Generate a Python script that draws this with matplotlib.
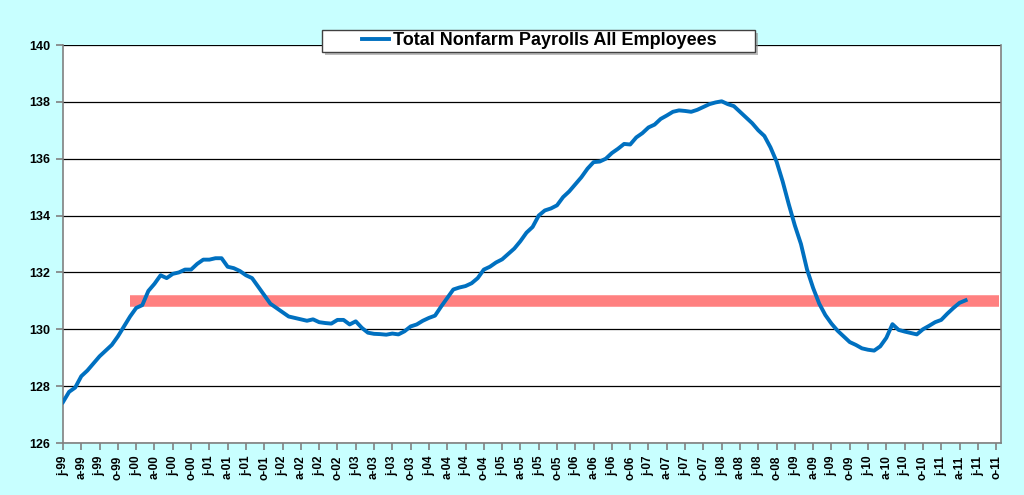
import matplotlib
matplotlib.use("Agg")
import matplotlib.pyplot as plt
from matplotlib.patches import Rectangle
import numpy as np

# Monthly Total Nonfarm Payrolls (millions), Jan 1999 .. May 2011
payrolls = [
    # 1999
    127.44, 127.80, 127.95, 128.35, 128.55, 128.80, 129.05, 129.25, 129.45, 129.75, 130.10, 130.45,
    # 2000
    130.75, 130.85, 131.35, 131.60, 131.90, 131.80, 131.95, 132.00, 132.10, 132.10, 132.30, 132.45,
    # 2001
    132.45, 132.50, 132.50, 132.20, 132.15, 132.05, 131.90, 131.80, 131.50, 131.20, 130.90, 130.75,
    # 2002
    130.60, 130.45, 130.40, 130.35, 130.30, 130.35, 130.25, 130.22, 130.20, 130.33, 130.33, 130.17,
    # 2003
    130.28, 130.05, 129.88, 129.84, 129.83, 129.81, 129.85, 129.82, 129.93, 130.10, 130.17, 130.30,
    # 2004
    130.40, 130.48, 130.80, 131.10, 131.40, 131.47, 131.52, 131.62, 131.80, 132.10, 132.20, 132.35,
    # 2005
    132.46, 132.65, 132.84, 133.10, 133.40, 133.60, 134.00, 134.18, 134.25, 134.36, 134.65, 134.85,
    # 2006
    135.10, 135.35, 135.65, 135.88, 135.90, 136.00, 136.20, 136.35, 136.52, 136.50, 136.75, 136.90,
    # 2007
    137.10, 137.20, 137.40, 137.52, 137.65, 137.70, 137.68, 137.65, 137.72, 137.82, 137.92, 137.98,
    # 2008
    138.02, 137.92, 137.85, 137.65, 137.45, 137.25, 137.00, 136.80, 136.40, 135.90, 135.20, 134.40,
    # 2009
    133.65, 133.00, 132.10, 131.45, 130.90, 130.50, 130.20, 129.95, 129.75, 129.55, 129.45, 129.33,
    # 2010
    129.28, 129.25, 129.40, 129.70, 130.18, 129.98, 129.92, 129.87, 129.82, 130.00, 130.12, 130.25,
    # 2011
    130.33, 130.55, 130.75, 130.93, 131.02,
]
quarter_letters = ["j", "a", "j", "o"]
tick_labels = [f"{quarter_letters[q]}-{(y % 100):02d}"
               for y in range(1999, 2012) for q in range(4)]
band_level = 131.0
band_start_month = 11      # Dec 1999
band_end_month = 153.4
legend_label = "Total Nonfarm Payrolls All Employees"
y_ticks = [126, 128, 130, 132, 134, 136, 138, 140]

W, H = 1024, 495
bg = "#C8FFFF"
fig = plt.figure(figsize=(W/100, H/100), dpi=100, facecolor=bg)
ax = fig.add_axes([63/W, 1-443/H, 938/W, 398/H])
ax.set_facecolor("white")

months = np.arange(len(payrolls))
ax.plot([band_start_month, band_end_month], [band_level, band_level],
        color="#FF8080", lw=8.3, solid_capstyle="butt", zorder=2)
line, = ax.plot(months, payrolls, color="#0070C0", lw=2.8, zorder=3,
                solid_joinstyle="round", label=legend_label)

ax.set_xlim(0, 153.8)
ax.set_ylim(126, 140)
ax.set_yticks(y_ticks)
ax.set_yticklabels([str(v) for v in y_ticks], fontsize=9, fontweight="bold",
                   family="Liberation Sans")
ticks_x = np.arange(0, 3*len(tick_labels), 3)
ax.set_xticks(ticks_x)
ax.set_xticklabels(tick_labels, rotation=90, fontsize=8.5, fontweight="bold",
                   family="Liberation Sans")
ax.grid(axis="y", color="black", lw=0.9)
ax.set_axisbelow(True)
for s in ["left", "bottom", "right"]:
    ax.spines[s].set_color("#808080")
    ax.spines[s].set_linewidth(1.2)
ax.spines["top"].set_visible(False)
ax.tick_params(axis="y", direction="out", length=5, color="#808080", width=1.2, pad=4)
ax.tick_params(axis="x", direction="out", length=5, color="#808080", width=1.2, pad=4)

# legend box (with shadow) at top centre
bx0, bx1, by0, by1 = 322, 755, 29.5, 51.5
shadow = Rectangle(((bx0+3)/W, 1-(by1+3)/H), (bx1-bx0)/W, (by1-by0)/H,
                   transform=fig.transFigure, facecolor="#909090", alpha=0.6,
                   edgecolor="none", zorder=4)
box = Rectangle((bx0/W, 1-by1/H), (bx1-bx0)/W, (by1-by0)/H,
                transform=fig.transFigure, facecolor="white",
                edgecolor="#404040", lw=1.0, zorder=5)
fig.add_artist(shadow)
fig.add_artist(box)
leg = fig.legend(handles=[line], labels=[legend_label], loc="center",
                 bbox_to_anchor=(539.5/W, 1-40.5/H), frameon=False,
                 handlelength=1.45, handletextpad=0.25, borderpad=0.0,
                 prop={"family": "Liberation Sans", "weight": "bold", "size": 13})
leg.set_zorder(7)

fig.savefig("out.png", dpi=100, facecolor=bg)
